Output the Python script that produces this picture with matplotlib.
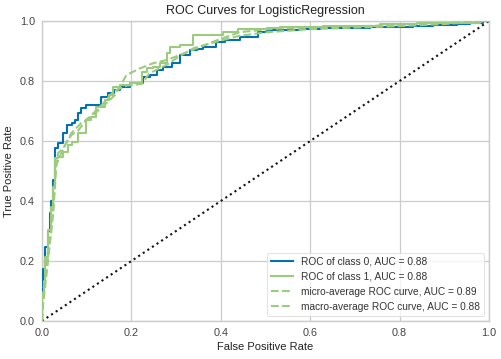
import matplotlib
matplotlib.use("Agg")
import matplotlib.pyplot as plt

plt.rcParams['font.family'] = ['Liberation Sans', 'DejaVu Sans']

title = "ROC Curves for LogisticRegression"
xlabel = "False Positive Rate"
ylabel = "True Positive Rate"
ticks = [0.0, 0.2, 0.4, 0.6, 0.8, 1.0]
tick_labels = ["0.0", "0.2", "0.4", "0.6", "0.8", "1.0"]

labels = ["ROC of class 0, AUC = 0.88", "ROC of class 1, AUC = 0.88",
          "micro-average ROC curve, AUC = 0.89", "macro-average ROC curve, AUC = 0.88"]

# class 0
fpr0 = [0.0, 0.002, 0.007, 0.013, 0.018, 0.021, 0.025, 0.028, 0.030, 0.036, 0.047, 0.057,
        0.066, 0.073, 0.081, 0.088, 0.099, 0.121, 0.132, 0.148, 0.16, 0.174, 0.197, 0.227,
        0.242, 0.257, 0.271, 0.29, 0.309, 0.331, 0.346, 0.361, 0.39, 0.409, 0.443, 0.484,
        0.503, 0.577, 0.622, 0.734, 0.83, 0.875, 0.928, 0.957, 0.987, 1.0]
tpr0 = [0.0, 0.137, 0.172, 0.248, 0.30, 0.36, 0.40, 0.47, 0.564, 0.577, 0.593, 0.627,
        0.653, 0.66, 0.67, 0.693, 0.71, 0.72, 0.72, 0.747, 0.76, 0.77, 0.781, 0.792,
        0.814, 0.82, 0.837, 0.848, 0.859, 0.887, 0.902, 0.908, 0.913, 0.93, 0.936, 0.947,
        0.963, 0.97, 0.973, 0.976, 0.981, 0.983, 0.987, 0.99, 0.992, 1.0]

# class 1
fpr1 = [0.0, 0.0045, 0.007, 0.013, 0.021, 0.025, 0.028, 0.036, 0.047, 0.058, 0.066, 0.081,
        0.099, 0.11, 0.121, 0.14, 0.151, 0.159, 0.174, 0.197, 0.223, 0.234, 0.249, 0.264,
        0.279, 0.286, 0.309, 0.338, 0.406, 0.439, 0.503, 0.532, 0.629, 0.756, 0.838, 0.883,
        0.98, 1.0]
tpr1 = [0.0, 0.093, 0.127, 0.214, 0.303, 0.381, 0.448, 0.542, 0.548, 0.564, 0.587, 0.598,
        0.626, 0.67, 0.681, 0.714, 0.737, 0.753, 0.781, 0.787, 0.792, 0.831, 0.842, 0.848,
        0.859, 0.892, 0.914, 0.92, 0.952, 0.963, 0.972, 0.976, 0.981, 0.985, 0.989, 0.992,
        0.994, 1.0]

# micro-average
fpr_micro = [0.0, 0.002, 0.006, 0.013, 0.02, 0.025, 0.032, 0.043, 0.054, 0.066, 0.088,
             0.11, 0.14, 0.163, 0.189, 0.219, 0.248, 0.279, 0.309, 0.346, 0.39, 0.443,
             0.517, 0.6, 0.7, 0.8, 0.9, 1.0]
tpr_micro = [0.0, 0.048, 0.103, 0.193, 0.29, 0.359, 0.52, 0.56, 0.593, 0.627, 0.66,
             0.681, 0.72, 0.753, 0.82, 0.842, 0.859, 0.87, 0.887, 0.909, 0.935, 0.963,
             0.974, 0.978, 0.982, 0.987, 0.993, 1.0]

# macro-average
fpr_macro = [0.0, 0.003, 0.007, 0.013, 0.02, 0.026, 0.03, 0.036, 0.047, 0.057, 0.066, 0.081,
             0.099, 0.12, 0.14, 0.16, 0.19, 0.223, 0.24, 0.26, 0.28, 0.31, 0.34, 0.4,
             0.44, 0.5, 0.6, 0.7, 0.8, 0.9, 1.0]
tpr_macro = [0.0, 0.1, 0.15, 0.23, 0.3, 0.39, 0.5, 0.56, 0.575, 0.6, 0.62, 0.635,
             0.67, 0.7, 0.73, 0.765, 0.785, 0.79, 0.825, 0.84, 0.855, 0.885, 0.91, 0.935,
             0.95, 0.962, 0.973, 0.978, 0.983, 0.99, 1.0]

diag_x = [0.0, 1.0]
diag_y = [0.0, 1.0]

blue = "#0072B2"
green = "#9CCB7E"

fig = plt.figure(figsize=(5.02, 3.59), dpi=100)
ax = fig.add_axes([42 / 502, 1 - 321 / 359, 447 / 502, 300 / 359])
ax.set_facecolor("white")

ax.plot(fpr0, tpr0, color=blue, lw=1.5, drawstyle="steps-pre", label=labels[0], zorder=3)
ax.plot(fpr1, tpr1, color=green, lw=1.5, drawstyle="steps-pre", label=labels[1], zorder=3)
ax.plot(fpr_micro, tpr_micro, color=green, lw=1.5, ls="--", label=labels[2], zorder=3)
ax.plot(fpr_macro, tpr_macro, color=green, lw=1.5, ls="--", label=labels[3], zorder=3)
ax.plot(diag_x, diag_y, ls=":", color="#111111", lw=1.5, zorder=2)

ax.set_xlim(0, 1)
ax.set_ylim(0, 1)
ax.set_xticks(ticks)
ax.set_xticklabels(tick_labels)
ax.set_yticks(ticks)
ax.set_yticklabels(tick_labels)
ax.tick_params(length=0, labelsize=7.8, colors="#444444", pad=5)
ax.grid(True, color="#cccccc", lw=0.9)
ax.set_axisbelow(True)
for s in ax.spines.values():
    s.set_color("#cccccc")
    s.set_linewidth(1.0)

ax.set_title(title, fontsize=9, color="#222222", pad=5)
ax.set_xlabel(xlabel, fontsize=8, color="#222222", labelpad=3)
ax.set_ylabel(ylabel, fontsize=8, color="#222222", labelpad=4)

leg = ax.legend(loc="lower right", frameon=True, fontsize=7.25, handlelength=2.2,
                borderpad=0.4, labelspacing=0.5)
leg.get_frame().set_edgecolor("#dddddd")
leg.get_frame().set_linewidth(0.8)
for t in leg.get_texts():
    t.set_color("#333333")

fig.savefig("out.png", dpi=100, facecolor="white")
